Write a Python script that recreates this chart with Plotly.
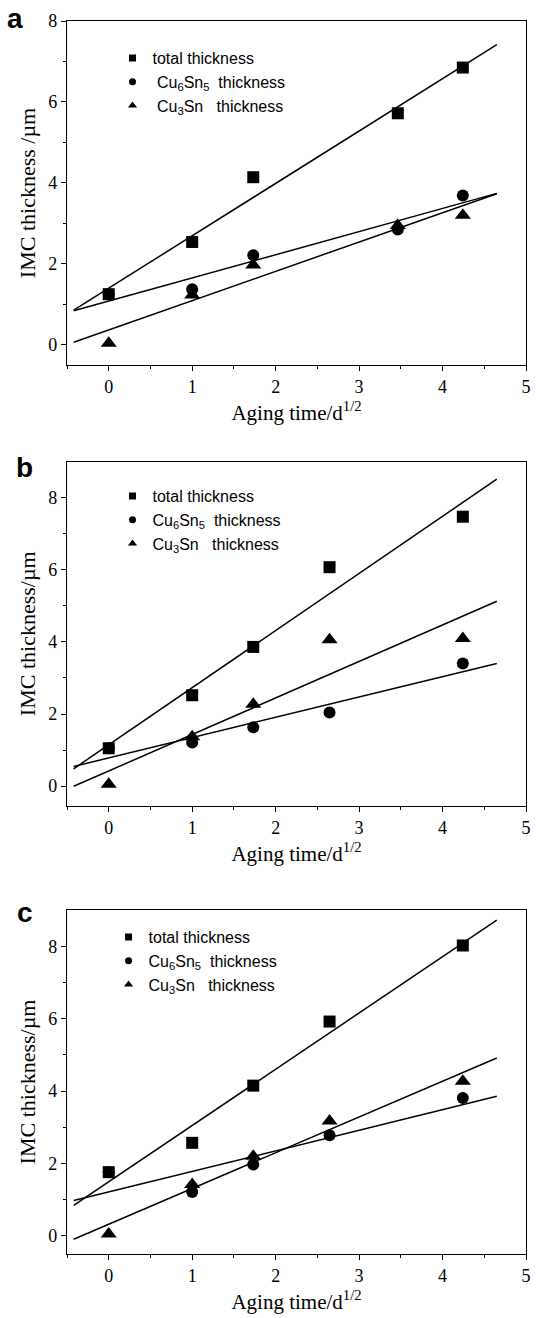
import numpy as np
import plotly.graph_objects as go

# ---------------- data ----------------
x_a = [0, 1, 1.732, 3.464, 4.243]
total_a = [1.25, 2.54, 4.14, 5.72, 6.85]
cu6sn5_a = [1.25, 1.37, 2.21, 2.85, 3.69]
cu3sn_a = [0.04, 1.23, 1.97, 2.95, 3.20]

x_b = [0, 1, 1.732, 2.646, 4.243]
total_b = [1.05, 2.52, 3.86, 6.07, 7.47]
cu6sn5_b = [1.05, 1.21, 1.63, 2.04, 3.40]
cu3sn_b = [0.05, 1.37, 2.27, 4.06, 4.09]

x_c = [0, 1, 1.732, 2.646, 4.243]
total_c = [1.76, 2.57, 4.15, 5.92, 8.02]
cu6sn5_c = [1.76, 1.21, 1.97, 2.78, 3.81]
cu3sn_c = [0.05, 1.42, 2.20, 3.17, 4.27]

fit_span = [-0.42, 4.65]
panel_labels = ["a", "b", "c"]
ytitles = ["IMC thickness /\u00b5m", "IMC thickness/\u00b5m", "IMC thickness/\u00b5m"]
xtitle = "Aging time/d<sup>1/2</sup>"

legend_names_a = ["total thickness", "\u00a0Cu<sub>6</sub>Sn<sub>5</sub>\u00a0\u00a0thickness",
                  "\u00a0Cu<sub>3</sub>Sn\u00a0\u00a0\u00a0thickness"]
legend_names_bc = ["total thickness", "Cu<sub>6</sub>Sn<sub>5</sub>\u00a0\u00a0thickness",
                   "Cu<sub>3</sub>Sn\u00a0\u00a0\u00a0thickness"]

panels = [
    (x_a, [total_a, cu6sn5_a, cu3sn_a], legend_names_a, [-0.5, 8], [0, 2, 4, 6, 8]),
    (x_b, [total_b, cu6sn5_b, cu3sn_b], legend_names_bc, [-0.55, 9], [0, 2, 4, 6, 8]),
    (x_c, [total_c, cu6sn5_c, cu3sn_c], legend_names_bc, [-0.5, 9], [0, 2, 4, 6, 8]),
]

symbols = ["square", "circle", "triangle-up"]
sizes = [12, 12, 14]
leg_sizes = [7, 7, 8]

W, H = 536, 1318
ML, MR, MT, MB = 67, 5, 21, 64
ph = H - MT - MB
pw = W - ML - MR

def fy(py):
    return (H - MB - py) / ph

def fx(px):
    return (px - ML) / pw

domains = [[fy(365), 1.0], [fy(806), fy(461.5)], [0.0, fy(910)]]
legend_pos = [(fx(113), fy(41)), (fx(113), fy(479)), (fx(109), fy(920))]
label_pos = [(fx(14), fy(1)), (fx(24), fy(450)), (fx(24.5), fy(895))]

fig = go.Figure()
serif = "Liberation Serif, Times New Roman, serif"
sans = "Liberation Sans, Arial, sans-serif"

for i, (xs, series, names, yr, yt) in enumerate(panels):
    sfx = "" if i == 0 else str(i + 1)
    xa, ya = "x" + sfx, "y" + sfx
    leg = "legend" + sfx
    xfit = np.array(fit_span)
    for s, ys in enumerate(series):
        k, b0 = np.polyfit(np.array(xs), np.array(ys), 1)
        fig.add_trace(go.Scatter(x=xfit, y=k * xfit + b0, mode="lines",
                                 line=dict(color="black", width=1.5),
                                 xaxis=xa, yaxis=ya, showlegend=False, hoverinfo="skip"))
    for s, ys in enumerate(series):
        fig.add_trace(go.Scatter(x=xs, y=ys, mode="markers",
                                 marker=dict(symbol=symbols[s], size=sizes[s], color="black"),
                                 xaxis=xa, yaxis=ya, showlegend=False))
    for s in range(3):
        fig.add_trace(go.Scatter(x=[None], y=[None], mode="markers", name=names[s],
                                 marker=dict(symbol=symbols[s], size=leg_sizes[s], color="black"),
                                 xaxis=xa, yaxis=ya, showlegend=True, legend=leg))
    axcommon = dict(showline=True, linecolor="black", linewidth=1.3, mirror=True,
                    ticks="outside", ticklen=5, tickwidth=1.3, tickcolor="black",
                    showgrid=False, zeroline=False,
                    tickfont=dict(family=serif, size=18, color="black"))
    fig.layout["xaxis" + sfx] = dict(axcommon, domain=[0, 1], range=[-0.5, 5], anchor=ya,
                                     tickvals=[0, 1, 2, 3, 4, 5],
                                     minor=dict(tickvals=[-0.5, 0.5, 1.5, 2.5, 3.5, 4.5], ticks="outside",
                                                ticklen=3, tickwidth=1.3, tickcolor="black"),
                                     title=dict(text=xtitle, font=dict(family=serif, size=21, color="black"),
                                                standoff=9))
    fig.layout["yaxis" + sfx] = dict(axcommon, domain=domains[i], range=yr, anchor=xa,
                                     tickvals=yt,
                                     minor=dict(tickvals=[1, 3, 5, 7], ticks="outside",
                                                ticklen=3, tickwidth=1.3, tickcolor="black"),
                                     title=dict(text=ytitles[i], font=dict(family=serif, size=22, color="black"),
                                                standoff=6))
    lx, ly = legend_pos[i]
    fig.layout[leg] = dict(x=lx, y=ly, xanchor="left", yanchor="top", bgcolor="rgba(0,0,0,0)",
                           borderwidth=0, font=dict(family=sans, size=16, color="black"),
                           tracegroupgap=0, itemsizing="trace")
    px_, py_ = label_pos[i]
    fig.add_annotation(x=px_, y=py_, xref="paper", yref="paper", text="<b>%s</b>" % panel_labels[i],
                       showarrow=False, xanchor="center", yanchor="top",
                       font=dict(family=sans, size=28, color="black"))

fig.update_layout(width=W, height=H, margin=dict(l=ML, r=MR, t=MT, b=MB),
                  paper_bgcolor="white", plot_bgcolor="white", showlegend=True)
fig.write_html("out.html")
